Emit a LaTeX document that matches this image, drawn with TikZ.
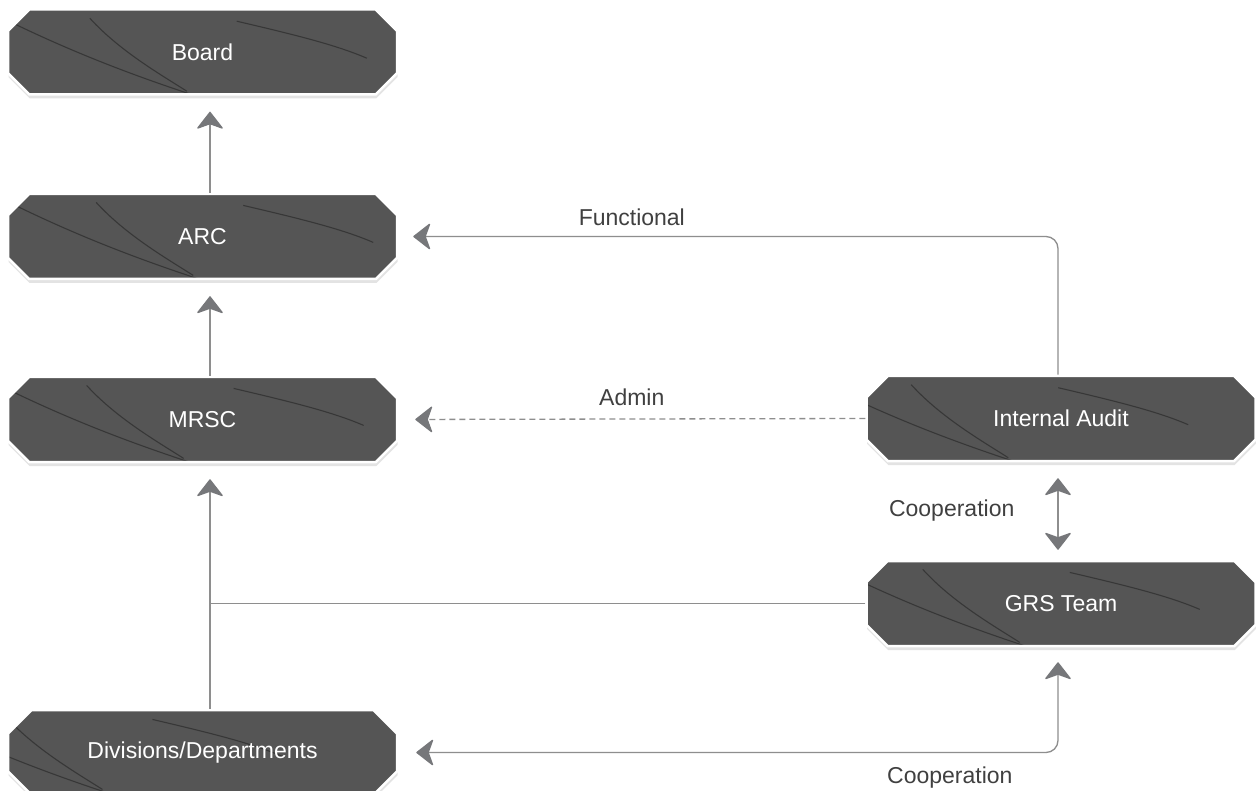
\documentclass[tikz,border=0pt]{standalone}
\usepackage{fontspec}
\setmainfont{Liberation Sans}
\usetikzlibrary{shapes.misc,shadows,arrows.meta}

\definecolor{slate}{HTML}{555555}
\definecolor{linkgray}{HTML}{8E8E8E}
\definecolor{tipgray}{HTML}{76777A}
\definecolor{tagtext}{HTML}{404040}

\newcommand\boxfont{\fontsize{23}{27}\selectfont}
\newcommand\tagfont{\fontsize{23}{27}\selectfont}

\tikzset{
  stone/.style={chamfered rectangle, chamfered rectangle sep=13pt,
    minimum width=389pt, minimum height=85pt, inner sep=0pt,
    fill=slate, draw=white, line width=2.5pt, text=white, font=\boxfont,
    drop shadow={shadow xshift=0.5pt, shadow yshift=-4pt, opacity=.22},
    path picture={
      \begin{scope}[shift={(path picture bounding box.center)},
          black, opacity=.35, line width=1.1pt]
        \draw (-169,-42) .. controls (-102,-9) and (-40,15) .. (31,38);
        \draw (-82,-42) .. controls (-52,-9) and (-10,15) .. (15,31);
        \draw (65,-39) .. controls (125,-25) and (165,-15) .. (195,-2);
        \draw (-192,25) .. controls (-170,30) and (-150,36) .. (-135,40);
      \end{scope}}},
  link/.style={draw=linkgray, line width=1.3pt},
  tip/.style={-{Stealth[length=18pt, width=28pt, inset=5pt, round, color=tipgray]}},
  tiptwo/.style={{Stealth[length=18pt, width=28pt, inset=5pt, round, color=tipgray]}-{Stealth[length=18pt, width=28pt, inset=5pt, round, color=tipgray]}},
  linktext/.style={text=tagtext, font=\tagfont, inner sep=0pt},
}

\begin{document}
\begin{tikzpicture}[x=1pt, y=-1pt]
  \useasboundingbox[fill=white] (0,0) rectangle (1256,791);
  % boxes
  \node[stone] (board) at (202.5,52) {Board};
  \node[stone] (arc) at (202.5,236.5) {ARC};
  \node[stone] (mrsc) at (202.5,419.5) {MRSC};
  \node[stone] (divs) at (202.5,752.5) {Divisions/Departments};
  \node[stone] (audit) at (1061,418.5) {Internal Audit};
  \node[stone] (grs) at (1061,603.5) {GRS Team};
  \coordinate (spine) at ([xshift=7.5pt]mrsc.south);
  % reporting lines
  \begin{scope}[link]
    \draw[tip, shorten >=16pt] ([xshift=7.5pt]arc.north) -- ([xshift=7.5pt]board.south);
    \draw[tip, shorten >=16pt] ([xshift=7.5pt]mrsc.north) -- ([xshift=7.5pt]arc.south);
    \draw[tip, shorten >=16pt] ([xshift=7.5pt]divs.north) -- (spine);
    \draw (grs.west) -- (grs.west -| spine);
    \draw[tip, rounded corners=12pt, shorten >=15pt] ([xshift=-3pt]audit.north) |- (arc.east)
      node[linktext, pos=0.823, above=10pt] {Functional};
    \draw[tip, dash pattern=on 6pt off 4pt, shorten >=17pt] (audit.west) -- (mrsc.east)
      node[linktext, pos=0.5, above=13pt] {Admin};
    \draw[tiptwo, shorten <=16pt, shorten >=10pt] ([xshift=-3pt]audit.south) -- ([xshift=-3pt]grs.north)
      node[linktext, midway, left=43pt] {Cooperation};
    \draw[tiptwo, rounded corners=12pt, shorten <=15pt, shorten >=18pt] ([xshift=-3pt]grs.south) |- (divs.east)
      node[linktext, pos=0.582, below=14pt] {Cooperation};
  \end{scope}
\end{tikzpicture}
\end{document}
